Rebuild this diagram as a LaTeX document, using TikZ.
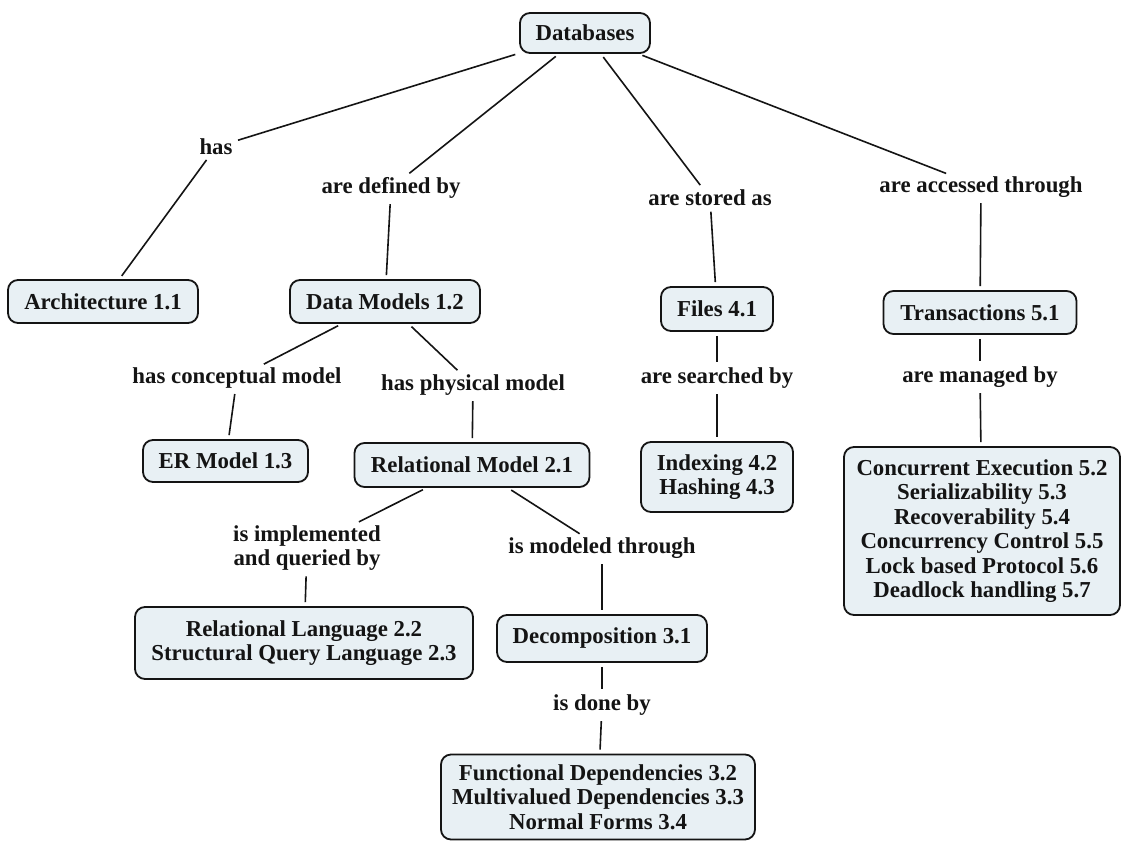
\documentclass[tikz,border=0pt]{standalone}
\usepackage{fontspec}
\setmainfont{Liberation Serif}
\definecolor{boxfill}{RGB}{232,240,244}
\definecolor{ink}{RGB}{20,20,20}
\begin{document}
\begin{tikzpicture}[x=1pt,y=-1pt,
  concept/.style={draw=ink, line width=1.8pt, fill=boxfill, rounded corners=10pt,
    align=center, inner sep=0pt, text=ink,
    font=\bfseries\fontsize{22.8}{24.5}\selectfont},
  linklabel/.style={inner sep=1.5pt, align=center, text=ink,
    font=\bfseries\fontsize{22.8}{24.5}\selectfont},
  conn/.style={draw=ink, line width=1.6pt, shorten <=4pt, shorten >=4pt}]
\useasboundingbox (0,0) rectangle (1124,841);
\fill[white] (0,0) rectangle (1124,841);

% concepts
\node[concept, minimum width=130pt, minimum height=40pt] (db) at (585,33) {Databases};
\node[concept, minimum width=190pt, minimum height=43pt] (arch) at (103,301.5) {Architecture 1.1};
\node[concept, minimum width=190pt, minimum height=43pt] (dm) at (385,301.5) {Data Models 1.2};
\node[concept, minimum width=112pt, minimum height=44pt] (files) at (717,309) {Files 4.1};
\node[concept, minimum width=193pt, minimum height=43pt] (trans) at (980,312.5) {Transactions 5.1};
\node[concept, minimum width=165pt, minimum height=42pt] (er) at (225.5,461) {ER Model 1.3};
\node[concept, minimum width=235pt, minimum height=44pt] (rm) at (472,465) {Relational Model 2.1};
\node[concept, minimum width=152pt, minimum height=70pt] (idx) at (717,477) {Indexing 4.2\\Hashing 4.3};
\node[concept, minimum width=276pt, minimum height=168pt] (cc) at (982,531)
  {Concurrent Execution 5.2\\Serializability 5.3\\Recoverability 5.4\\Concurrency Control 5.5\\Lock based Protocol 5.6\\Deadlock handling 5.7};
\node[concept, minimum width=338pt, minimum height=72pt] (rl) at (304,643)
  {Relational Language 2.2\\Structural Query Language 2.3};
\node[concept, minimum width=210pt, minimum height=47pt] (dec) at (602,638.5) {Decomposition 3.1};
\node[concept, minimum width=314pt, minimum height=85pt] (fd) at (598,797)
  {Functional Dependencies 3.2\\Multivalued Dependencies 3.3\\Normal Forms 3.4};

% linking phrases
\node[linklabel] (l1) at (216,147) {has};
\node[linklabel] (l2) at (391,188) {are defined by};
\node[linklabel] (l3) at (710,198) {are stored as};
\node[linklabel] (l4) at (981,187) {are accessed through};
\node[linklabel] (l5) at (237,378) {has conceptual model};
\node[linklabel] (l6) at (473,385) {has physical model};
\node[linklabel] (l7) at (717,378) {are searched by};
\node[linklabel] (l8) at (980,377) {are managed by};
\node[linklabel] (l9) at (307,548) {is implemented\\and queried by};
\node[linklabel] (l10) at (602,548) {is modeled through};
\node[linklabel] (l11) at (602,705) {is done by};

% connectors
\draw[conn] (db) -- (l1);
\draw[conn] (l1) -- (arch);
\draw[conn] (db) -- (l2);
\draw[conn] (l2) -- (dm);
\draw[conn] (db) -- (l3);
\draw[conn] (l3) -- (files);
\draw[conn] (db) -- (l4);
\draw[conn] (l4) -- (trans);
\draw[conn] (dm) -- (l5);
\draw[conn] (l5) -- (er);
\draw[conn] (dm) -- (l6);
\draw[conn] (l6) -- (rm);
\draw[conn] (files) -- (l7);
\draw[conn] (l7) -- (idx);
\draw[conn] (trans) -- (l8);
\draw[conn] (l8) -- (cc);
\draw[conn] (rm) -- (l9);
\draw[conn] (l9) -- (rl);
\draw[conn] (rm) -- (l10);
\draw[conn] (l10) -- (dec);
\draw[conn] (dec) -- (l11);
\draw[conn] (l11) -- (fd);
\end{tikzpicture}
\end{document}
